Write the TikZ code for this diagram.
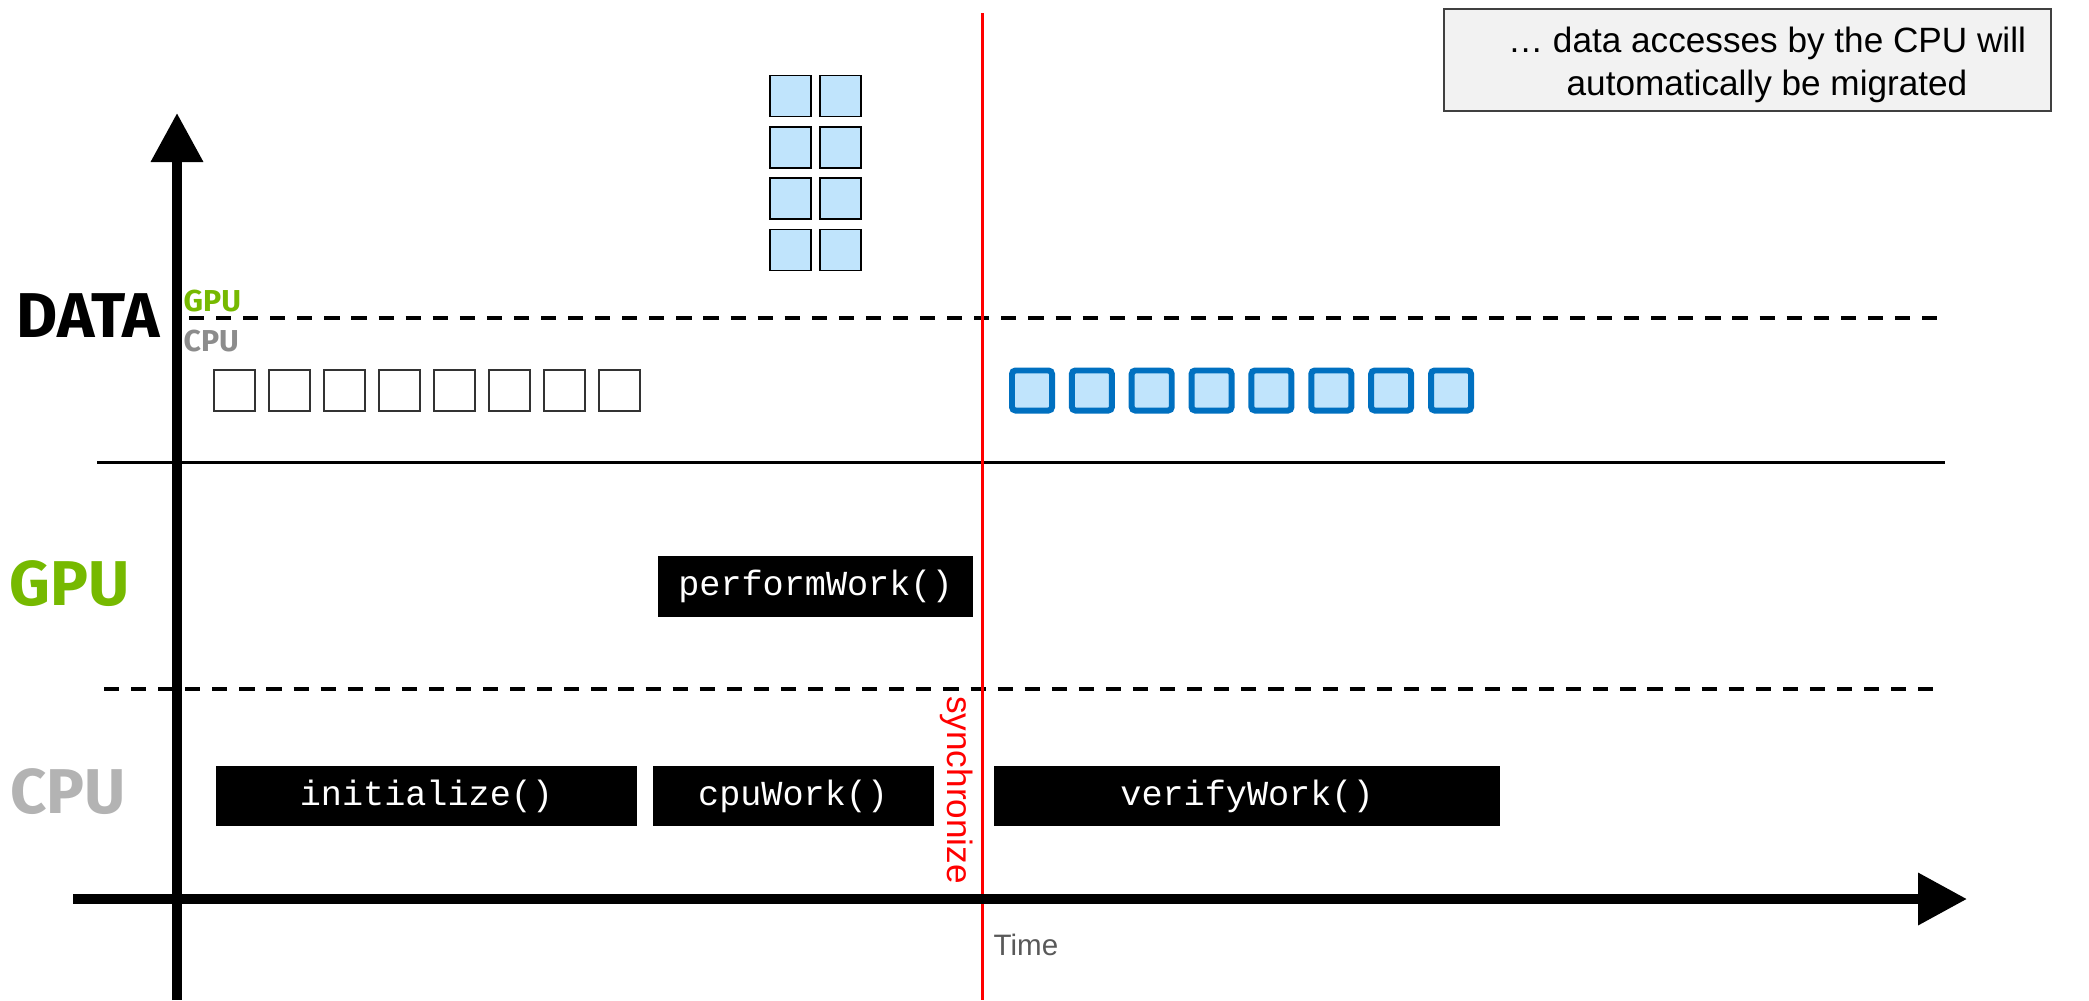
\documentclass[tikz,border=0pt]{standalone}
\usepackage{fontspec}
\setmainfont{Liberation Sans}
\setmonofont{Liberation Mono}
\newfontfamily\headfont{Fira Sans}
\usepackage{tikz}
\usetikzlibrary{positioning,arrows.meta}
\definecolor{nvgreen}{HTML}{76B900}
\definecolor{cpugray}{HTML}{B3B3B3}
\definecolor{smallgray}{HTML}{8C8C8C}
\definecolor{cellblue}{HTML}{C0E4FC}
\definecolor{edgeblue}{HTML}{0070C0}
\definecolor{notefill}{HTML}{F2F2F2}
\tikzset{node distance=0.14cm, auto,
         call/.style={fill=black, text=white, inner sep=0pt, minimum height=0.6cm,
                      font=\ttfamily\fontsize{10}{12}\selectfont},
         cell/.style={draw=black, fill=cellblue, line width=0.5pt, inner sep=0pt, minimum size=0.41cm},
         hostcell/.style={draw=black!80, fill=white, line width=0.5pt, inner sep=0pt, minimum size=0.41cm},
         devcell/.style={draw=edgeblue, fill=cellblue, line width=1.7pt, rounded corners=1pt,
                         inner sep=0pt, minimum size=0.40cm},
         lane/.style={font=\headfont\bfseries\fontsize{18}{20}\selectfont, anchor=base},
         axis/.style={line width=2.85pt, -{Triangle[length=0.49cm,width=0.5cm]}},
         split/.style={line width=1.1pt, dash pattern=on 4.3pt off 3.4pt}}

\begin{document}
\begin{tikzpicture}[x=0.01cm, y=-0.01cm]

             \useasboundingbox (0,0) rectangle (2089,1000);

             \coordinate (yfoot) at (177,1000);
             \coordinate (ytip) at (177,113);
             \coordinate (xfoot) at (73,899);
             \coordinate (xtip) at (1967,899);

             \coordinate (dl) at (189,318);
             \coordinate (dr) at (1945,318);
             \coordinate (gl) at (104,689);
             \coordinate (gr) at (1938,689);
             \coordinate (sl) at (97,462);
             \coordinate (sr) at (1945,462);

             \coordinate (synctop) at (982,13);
             \coordinate (syncfoot) at (982,1000);

             \draw [split] (dl) -- (dr);
             \draw [split] (gl) -- (gr);
             \draw [line width=0.85pt] (sl) -- (sr);

             \node (data) [lane] at (88,337) {DATA};
             \node (gpu) [lane, text=nvgreen] at (70,605) {GPU};
             \node (cpu) [lane, text=cpugray] at (68,813) {CPU};

             \node (gpumem) [anchor=base west, inner sep=0pt, text=nvgreen,
                  font=\headfont\bfseries\fontsize{8.6}{10}\selectfont] at (183,311) {GPU};
             \node (cpumem) [anchor=base west, inner sep=0pt, text=smallgray,
                  font=\headfont\bfseries\fontsize{8.6}{10}\selectfont] at (183,351) {CPU};

             \foreach \row [count=\r from 0] in {1,...,4}
                \foreach \col in {0,1}
                   \node (page-\row-\col) [cell] at (790.5+50*\col, 96+51.3*\r) {};

             \foreach \k in {0,...,7}
                \node (host-\k) [hostcell] at (234.5+55*\k, 390.5) {};

             \foreach \k in {0,...,7}
                \node (dev-\k) [devcell] at (1032+59.86*\k, 390.5) {};

             \node (init) [call, minimum width=4.21cm] at (426.5,796) {initialize()};
             \node (cpuwork) [call, minimum width=2.81cm, right=of init] {cpuWork()};
             \node (verify) [call, minimum width=5.06cm] at (1247,796) {verifyWork()};
             \node (perform) [call, minimum width=3.15cm] at (815.5,586.5) {performWork()};

             \draw [red, line width=0.85pt] (synctop) -- (syncfoot);
             \node (sync) [rotate=-90, text=red, inner sep=0pt,
                  font=\fontsize{10}{12}\selectfont] at (957,790) {synchronize};

             \node (time) [anchor=base west, inner sep=0pt, text=black!65,
                  font=\fontsize{8.4}{10}\selectfont] at (993,955) {Time};

             \draw [axis] (yfoot) -- (ytip);
             \draw [axis] (xfoot) -- (xtip);

             \node (note) [draw=black!75, fill=notefill, line width=0.5pt,
                  minimum width=6.07cm, minimum height=1.02cm] at (1747.5,60) {};
             \node (notetext) [align=center, inner sep=0pt,
                  font=\fontsize{10}{12.1}\selectfont] at (1767,65)
                  {\dots{} data accesses by the CPU will\\automatically be migrated};
          \end{tikzpicture}
\end{document}
